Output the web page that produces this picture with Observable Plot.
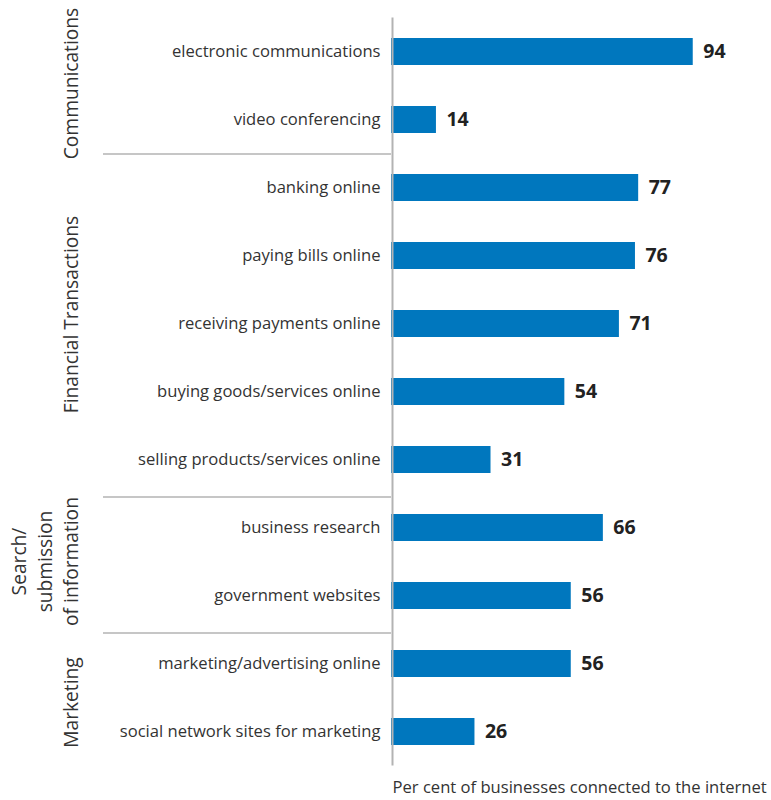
<!DOCTYPE html>
<html><head><meta charset="utf-8">
<script src="https://cdn.jsdelivr.net/npm/d3@7"></script>
<script src="https://cdn.jsdelivr.net/npm/@observablehq/plot@0.6"></script>
<style>body{margin:0;background:#fff;}</style>
</head><body><div id="chart"></div>
<script>
const categories = [
  "electronic communications",
  "video conferencing",
  "banking online",
  "paying bills online",
  "receiving payments online",
  "buying goods/services online",
  "selling products/services online",
  "business research",
  "government websites",
  "marketing/advertising online",
  "social network sites for marketing"
];
const values = [94, 14, 77, 76, 71, 54, 31, 66, 56, 56, 26];
const groupNames = ["Communications", "Financial Transactions", "Search/\nsubmission\nof information", "Marketing"];
const groupSizes = [2, 5, 2, 2];
const xLabel = "Per cent of businesses connected to the internet";

const data = categories.map((c, i) => ({category: c, value: values[i]}));
let idx = 0;
const groups = groupNames.map((name, i) => {
  const first = categories[idx];
  const last = categories[idx + groupSizes[i] - 1];
  idx += groupSizes[i];
  return {name, first, last};
});

const FONT = "'Open Sans', sans-serif";
// small visual nudges (px) for group labels and separators
const labelNudge = [-2, -9, 0, 5];
const sepNudge = [0.5, 3.5, 3.5];

function groupMark(index, scales, vals, dims) {
  const y = scales.y;
  const bw = y.bandwidth ? y.bandwidth() : 0;
  const g = d3.create("svg:g");
  const left = dims.marginLeft;
  groups.forEach((grp, i) => {
    const top = y(grp.first) + bw / 2;
    const bot = y(grp.last) + bw / 2;
    const cy = (top + bot) / 2 + labelNudge[i];
    const lines = grp.name.split("\n");
    const lh = 26;
    const t = g.append("text")
      .attr("transform", `translate(71,${cy}) rotate(-90)`)
      .attr("text-anchor", "middle")
      .attr("font-family", FONT)
      .attr("font-size", 19.2)
      .attr("fill", "#333");
    lines.forEach((ln, j) => {
      t.append("tspan")
        .attr("x", 0)
        .attr("y", (j - (lines.length - 1)) * lh)
        .attr("dy", "0.35em")
        .text(ln);
    });
    if (i < groups.length - 1) {
      const next = groups[i + 1];
      const sy = (bot + y(next.first) + bw / 2) / 2 + sepNudge[i];
      g.append("line")
        .attr("x1", 103).attr("x2", left)
        .attr("y1", sy).attr("y2", sy)
        .attr("stroke", "#b3b3b3").attr("stroke-width", 1.5);
    }
  });
  return g.node();
}

const chart = Plot.plot({
  width: 771,
  height: 800,
  marginLeft: 391,
  marginRight: 59,
  marginTop: 17.5,
  marginBottom: 34.5,
  style: {fontFamily: FONT, fontSize: "16.6px", color: "#333", background: "#fff"},
  x: {domain: [0, 100], axis: null},
  y: {domain: categories, axis: "left", tickSize: 0, tickPadding: 11, label: null, paddingInner: 0.6, paddingOuter: 0.3},
  marks: [
    Plot.barX(data, {x: "value", y: "category", fill: "#0077be"}),
    Plot.ruleX([0], {stroke: "#b3b3b3", strokeWidth: 2, dx: 1}),
    Plot.text(data, {x: "value", y: "category", text: d => String(d.value), dx: 10, textAnchor: "start", fontWeight: "bold", fontSize: 19.5, fill: "#222"}),
    Plot.text([xLabel], {frameAnchor: "bottom-left", dx: 1, dy: 27, textAnchor: "start", fontSize: 16.6, fill: "#333"}),
    groupMark
  ]
});
document.getElementById("chart").appendChild(chart);
</script>
</body></html>
